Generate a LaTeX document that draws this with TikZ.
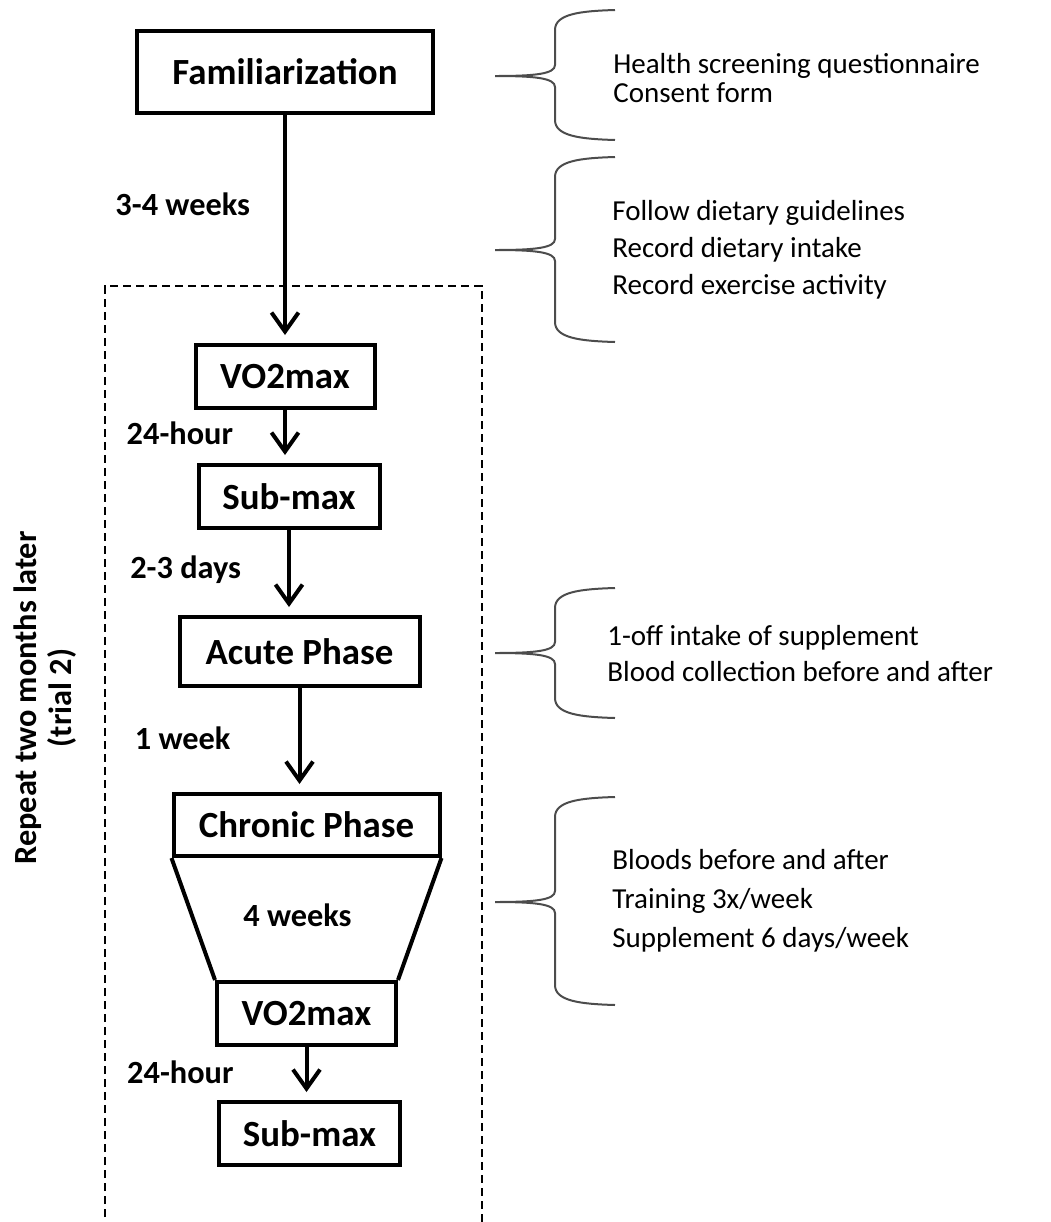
\documentclass[tikz,border=0pt]{standalone}
\usepackage{fontspec}
\setmainfont{Carlito}
\usetikzlibrary{arrows.meta,positioning}

% curly brace opening to the left: top y, tip y, bottom y
\newcommand{\notebrace}[3]{%
  \draw[brace line] (12.3,#1) .. controls (11.6,#1-0.02) and (11.1,#1-0.08) .. (11.1,#1-0.4)
    -- (11.1,#2+0.22) .. controls (11.1,#2+0.04) and (10.7,#2) .. (9.9,#2)
    .. controls (10.7,#2) and (11.1,#2-0.04) .. (11.1,#2-0.22)
    -- (11.1,#3+0.4) .. controls (11.1,#3+0.08) and (11.6,#3+0.02) .. (12.3,#3);}

\begin{document}
\begin{tikzpicture}[node distance=1cm, >={Straight Barb[length=0.38cm,width=0.54cm]},
    box/.style={draw, line width=0.08cm, font=\fontsize{21}{25}\selectfont\bfseries, inner sep=0pt},
    lbl/.style={font=\fontsize{18.4}{22}\selectfont\bfseries, inner sep=0pt},
    note/.style={font=\fontsize{16.5}{#1}\selectfont, align=left, anchor=west, inner sep=0pt},
    note/.default=21pt,
    flow/.style={->, line width=0.08cm, shorten >=0.16cm},
    brace line/.style={draw=black!70, line width=0.04cm}]
        \useasboundingbox (0,0) rectangle (21,-24.44);

        % Repeated block
        \draw[dash pattern=on 0.16cm off 0.1cm, line width=0.03cm] (2.10,-24.6) -- (2.10,-5.72) -- (9.64,-5.72) -- (9.64,-24.6);
        \node[rotate=90, align=center, inner sep=0pt, font=\fontsize{18.4}{20}\selectfont\bfseries] (repeat) at (0.9,-13.96) {Repeat two months later\\(trial 2)};

        % Steps
        \node[box, minimum width=5.92cm, minimum height=1.64cm] (fam) at (5.70,-1.44) {Familiarization};
        \node[box, minimum width=3.58cm, minimum height=1.26cm, below=4.56cm of fam] (vo2a) {VO2max};
        \node[box, minimum width=3.62cm, minimum height=1.26cm, below=1.06cm of vo2a, xshift=0.08cm] (suba) {Sub-max};
        \node[box, minimum width=4.80cm, minimum height=1.38cm, below=1.70cm of suba, xshift=0.21cm] (acute) {Acute Phase};
        \node[box, minimum width=5.32cm, minimum height=1.24cm, below=2.08cm of acute, xshift=0.14cm] (chronic) {Chronic Phase};
        \node[box, minimum width=3.58cm, minimum height=1.26cm, below=2.44cm of chronic] (vo2b) {VO2max};
        \node[box, minimum width=3.62cm, minimum height=1.26cm, below=1.06cm of vo2b, xshift=0.06cm] (subb) {Sub-max};

        % Funnel
        \draw[line width=0.08cm] (chronic.south west) -- (vo2b.north west);
        \draw[line width=0.08cm] (chronic.south east) -- (vo2b.north east);
        \path (chronic.south) -- (vo2b.north) node[lbl, midway, xshift=-0.18cm, yshift=0.08cm] (fourwk) {4 weeks};

        % Arrows
        \draw[flow] (fam.south) -- (fam.south |- vo2a.north) node[lbl, pos=0.39, left=0.66cm] {3-4 weeks};
        \draw[flow] (vo2a.south) -- (vo2a.south |- suba.north) node[lbl, pos=0.43, left=1.0cm] {24-hour};
        \draw[flow] (suba.south) -- (suba.south |- acute.north) node[lbl, pos=0.47, left=0.92cm] {2-3 days};
        \draw[flow] (acute.south) -- (acute.south |- chronic.north) node[lbl, pos=0.48, left=1.34cm] {1 week};
        \draw[flow] (vo2b.south) -- (vo2b.south |- subb.north) node[lbl, pos=0.47, left=1.42cm] {24-hour};

        % Notes
        \notebrace{-0.20}{-1.52}{-2.80}
        \node[note=17pt] (screen) at (12.26,-1.56) {Health screening questionnaire\\Consent form};
        \notebrace{-3.14}{-5.00}{-6.84}
        \node[note] (diet) at (12.24,-5.00) {Follow dietary guidelines\\Record dietary intake\\Record exercise activity};
        \notebrace{-11.76}{-13.06}{-14.36}
        \node[note] (acutenote) at (12.14,-13.07) {1-off intake of supplement\\Blood collection before and after};
        \notebrace{-15.94}{-18.04}{-20.10}
        \node[note=22.2pt] (chronicnote) at (12.24,-18.02) {Bloods before and after\\Training 3x/week\\Supplement 6 days/week};
    \end{tikzpicture}
\end{document}
